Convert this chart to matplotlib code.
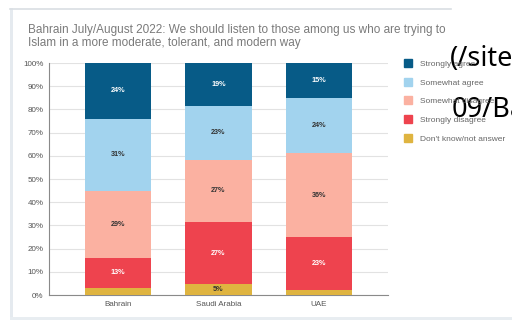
import matplotlib.pyplot as plt
from matplotlib.patches import Rectangle
from matplotlib.lines import Line2D
import numpy as np

# Datos
paises = ['Bahrain', 'Saudi Arabia', 'UAE']
categorias = ['Strongly agree', 'Somewhat agree', 'Somewhat disagree',
              'Strongly disagree', "Don't know/not answer"]
muy_de_acuerdo = [24, 18.6, 15]
algo_de_acuerdo = [31, 23.1, 24]
algo_en_desacuerdo = [29, 26.9, 36]
muy_en_desacuerdo = [13, 26.8, 23]
no_sabe = [3, 4.6, 2]

colores = ['#075b87', '#a2d3ee', '#fbb1a1', '#ee434e', '#dfb440']
color_texto = ['white', '#333333', '#333333', 'white', '#333333']

titulo = ('Bahrain July/August 2022: We should listen to those among us who are trying to\n'
          'Islam in a more moderate, tolerant, and modern way')

W, H = 512, 320
fig = plt.figure(figsize=(W / 100, H / 100), dpi=100)
fig.patch.set_facecolor('white')

# Marco de la captura
fig.add_artist(Rectangle((10 / W, 0), 3 / W, 312 / H, transform=fig.transFigure,
                         color='#e5eaef', lw=0))
fig.add_artist(Line2D([10 / W, 451 / W], [1 - 8.5 / H, 1 - 8.5 / H],
                      transform=fig.transFigure, color='#d9dee3', lw=1.2))
fig.add_artist(Rectangle((10 / W, 0), 502 / W, 3 / H, transform=fig.transFigure,
                         color='#e8edf1', lw=0))

fig.text(28 / W, 1 - 24 / H, titulo, ha='left', va='top', fontsize=8.5,
         color='#7a7a7a', family='Liberation Sans', linespacing=1.08)

ax = fig.add_axes([49 / W, 25 / H, 339 / W, 232 / H])
x = np.arange(len(paises))
series = [no_sabe, muy_en_desacuerdo, algo_en_desacuerdo, algo_de_acuerdo, muy_de_acuerdo]
orden = [4, 3, 2, 1, 0]
base = np.zeros(len(paises))
for s, idx in zip(series, orden):
    vals = np.array(s, dtype=float)
    ax.bar(x, vals, 0.66, bottom=base, color=colores[idx], label=categorias[idx], zorder=3)
    for xi, b, v in zip(x, base, vals):
        if v >= 4:
            ax.text(xi, b + v / 2, f'{round(v)}%', ha='center', va='center',
                    fontsize=5.2, fontweight='bold', color=color_texto[idx],
                    family='Liberation Sans', zorder=4)
    base += vals

ax.set_xlim(-0.687, 2.687)
ax.set_ylim(0, 100)
ax.set_yticks(range(0, 101, 10))
ax.set_yticklabels([f'{v}%' for v in range(0, 101, 10)])
ax.set_xticks(x)
ax.set_xticklabels(paises)
ax.tick_params(axis='both', length=0, labelsize=5.8, colors='#555555', pad=4)
for lab in ax.get_xticklabels() + ax.get_yticklabels():
    lab.set_family('Liberation Sans')
ax.yaxis.grid(True, color='#e2e2e2', lw=0.8, zorder=0)
for sp in ['top', 'right']:
    ax.spines[sp].set_visible(False)
ax.spines['left'].set_color('#8a8a8a')
ax.spines['bottom'].set_color('#8a8a8a')

# Leyenda
handles = [Line2D([], [], marker='s', ls='', color=c, markersize=5.2) for c in colores]
fig.legend(handles, categorias, loc='upper left', bbox_to_anchor=(400 / W, 1 - 56 / H),
           frameon=False, prop={'family': 'Liberation Sans', 'size': 6},
           labelcolor='#666666', labelspacing=1.3, handlelength=1.0,
           handletextpad=0.9, borderpad=0)

# Texto superpuesto de la página
fig.text(450 / W, 1 - 66 / H, '(/site', fontsize=19.5, family='Noto Sans',
         color='black', ha='left', va='baseline')
fig.text(452 / W, 1 - 117 / H, '09/Ba', fontsize=19.5, family='Noto Sans',
         color='black', ha='left', va='baseline')

fig.savefig('out.png', dpi=100, facecolor='white')
